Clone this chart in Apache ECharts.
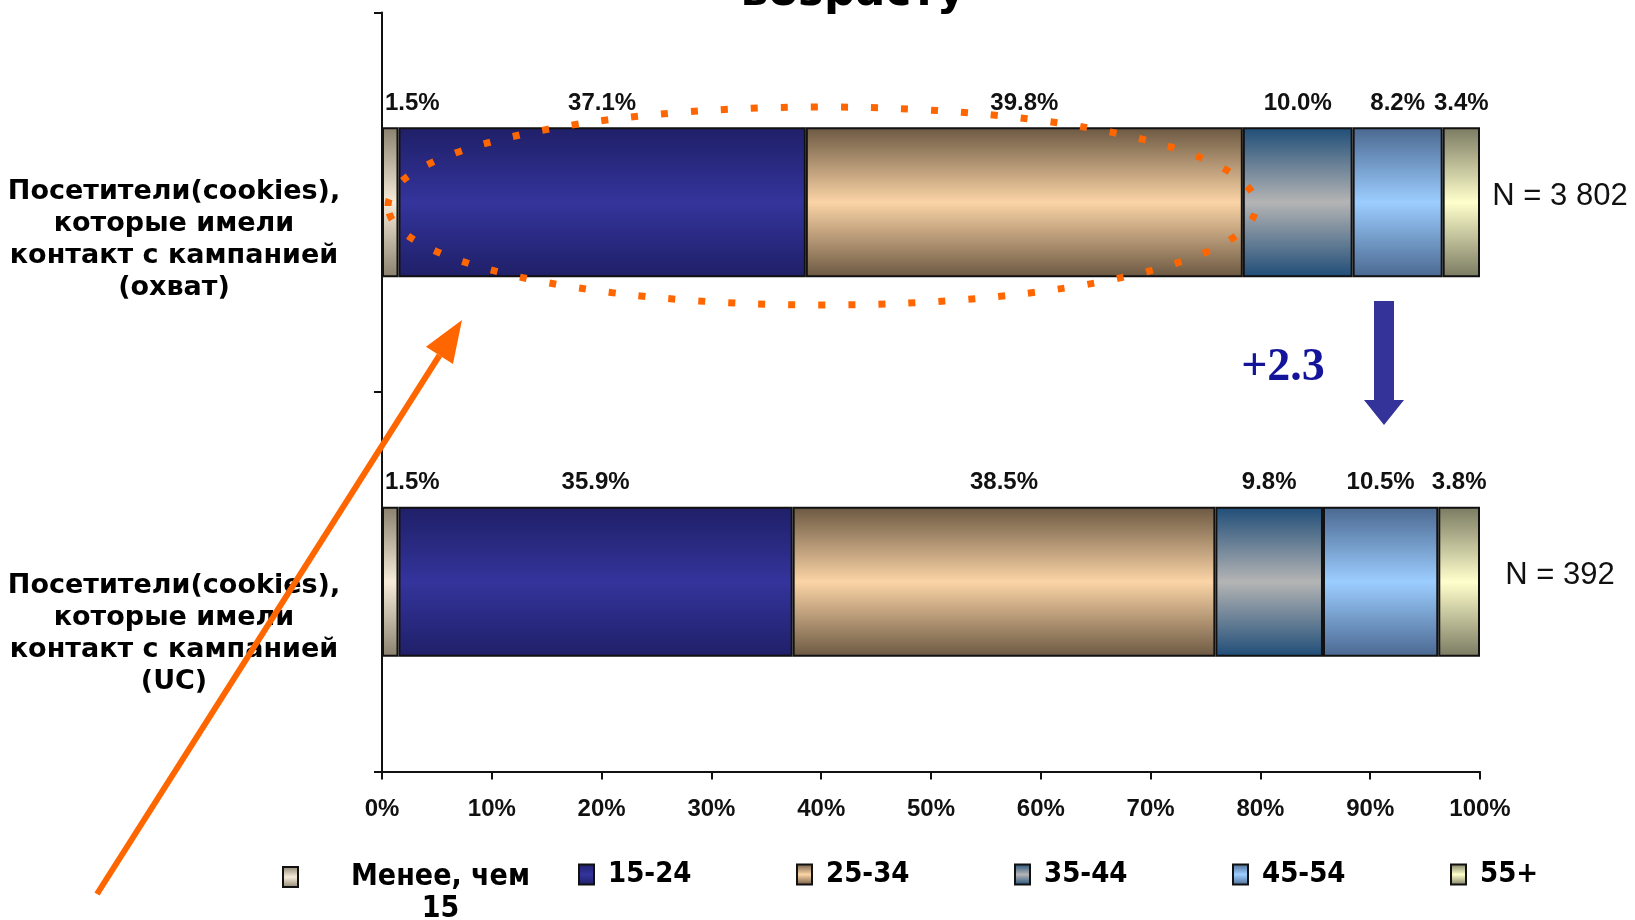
<!DOCTYPE html>
<html><head><meta charset="utf-8">
<script src="https://cdn.jsdelivr.net/npm/echarts@6/dist/echarts.min.js"></script>
<style>html,body{margin:0;padding:0;background:#fff}#c{width:1635px;height:920px}</style>
</head><body><div id="c"></div>
<script>
// ---- data ----
const categories = [
  'Посетители(cookies),\nкоторые имели\nконтакт с кампанией\n(охват)',
  'Посетители(cookies),\nкоторые имели\nконтакт с кампанией\n(UC)'
];
const seriesNames = ['Менее, чем 15', '15-24', '25-34', '35-44', '45-54', '55+'];
const under15   = [1.5, 1.5];
const age15_24  = [37.1, 35.9];
const age25_34  = [39.8, 38.5];
const age35_44  = [10.0, 9.8];
const age45_54  = [8.2, 10.5];
const age55plus = [3.4, 3.8];
const sampleSizes = ['N = 3 802', 'N = 392'];
const xTickValues = [0, 10, 20, 30, 40, 50, 60, 70, 80, 90, 100];
const titleText = 'возрасту';
const deltaText = '+2.3';

// ---- styles ----
const palette = [
  ['#8a806e', '#f6ecd9'],
  ['#1f1f68', '#34349c'],
  ['#6b5842', '#fbd4a6'],
  ['#1f4d78', '#b4b4b4'],
  ['#4a6890', '#9ccdff'],
  ['#7a7a62', '#ffffcc']
];
function grad(edge, mid) {
  return new echarts.graphic.LinearGradient(0, 0, 0, 1, [
    { offset: 0, color: edge }, { offset: 0.5, color: mid }, { offset: 1, color: edge }
  ]);
}
const values = [under15, age15_24, age25_34, age35_44, age45_54, age55plus];

const series = values.map((d, i) => ({
  name: seriesNames[i],
  type: 'bar',
  stack: 'total',
  barWidth: 150,
  data: d,
  itemStyle: { color: grad(palette[i][0], palette[i][1]), borderColor: '#111', borderWidth: 2 },
  label: {
    show: true, position: 'top', distance: 12,
    offset: d[0] < 3 ? [22, 0] : [0, 0],
    formatter: p => p.value.toFixed(1) + '%',
    color: '#111', fontFamily: 'Liberation Sans, Arial', fontSize: 24, fontWeight: 'bold'
  },
  emphasis: { disabled: true }
}));
series.push({
  name: 'N', type: 'bar', stack: 'total', barWidth: 150, data: sampleSizes.map(() => 0),
  itemStyle: { color: 'rgba(0,0,0,0)', borderWidth: 0 },
  label: {
    show: true, position: 'right', distance: 80, align: 'center', offset: [0, -6],
    formatter: p => sampleSizes[p.dataIndex],
    color: '#111', fontFamily: 'Liberation Sans, Arial', fontSize: 31
  },
  silent: true, emphasis: { disabled: true }
});

const legendFont = "'DejaVu Sans Condensed', 'Liberation Sans Narrow', 'DejaVu Sans', sans-serif";

// orange arrow geometry (annotation)
const aTail = [97, 894], aTip = [462, 320];
const adx = aTip[0] - aTail[0], ady = aTip[1] - aTail[1];
const alen = Math.hypot(adx, ady), ux = adx / alen, uy = ady / alen;
const headL = 42, headW = 16;
const base = [aTip[0] - headL * ux, aTip[1] - headL * uy];
const nx = -uy, ny = ux;

const chart = echarts.init(document.getElementById('c'));
chart.setOption({
  animation: false,
  backgroundColor: '#fff',
  grid: { left: 382, right: 155, top: 12.5, bottom: 148.4 },
  xAxis: {
    type: 'value', min: xTickValues[0], max: xTickValues[xTickValues.length - 1], interval: 10,
    axisLine: { show: true, lineStyle: { color: '#111', width: 2 } },
    axisTick: { show: true, length: 8, lineStyle: { color: '#111', width: 2 } },
    splitLine: { show: false },
    axisLabel: { formatter: '{value}%', margin: 26, color: '#111', fontFamily: 'Liberation Sans, Arial', fontWeight: 'bold', fontSize: 24 }
  },
  yAxis: {
    type: 'category', inverse: true, data: categories,
    axisLine: { show: true, lineStyle: { color: '#111', width: 2 } },
    axisTick: { show: true, length: 8, lineStyle: { color: '#111', width: 2 } },
    axisLabel: {
      formatter: (v, i) => (i === 0 ? '{a| }\n{a| }\n' : '{b| }\n{b| }\n{b| }\n') + v,
      align: 'center', margin: 208, lineHeight: 32,
      color: '#000', fontFamily: 'DejaVu Sans, Verdana', fontWeight: 'bold', fontSize: 27,
      rich: { a: { lineHeight: 38, fontSize: 10 }, b: { lineHeight: 35, fontSize: 10 } }
    }
  },
  legend: [
    {
      data: [seriesNames[0]], left: 282, top: 830, padding: 0, icon: 'rect',
      itemWidth: 15, itemHeight: 20, selectedMode: false,
      formatter: name => {
        const k = name.lastIndexOf(' ');
        return '{c| }\n{c|' + name.slice(0, k) + '}\n{c|' + name.slice(k + 1) + '}';
      },
      textStyle: {
        rich: { c: { width: 275, align: 'center', lineHeight: 32, fontSize: 30, fontWeight: 'bold', fontFamily: legendFont, color: '#000' } }
      }
    },
    {
      data: seriesNames.slice(1), left: 578, top: 860, padding: 0, icon: 'rect', itemGap: 93,
      itemWidth: 15, itemHeight: 20, selectedMode: false,
      formatter: name => '{t|' + name + '}',
      textStyle: {
        rich: { t: { width: 95, padding: [0, 0, 0, 9], lineHeight: 36, fontSize: 29, fontWeight: 'bold', fontFamily: legendFont, color: '#000' } }
      }
    }
  ],
  series: series,
  graphic: [
    { type: 'text', z: 100, style: { text: titleText, x: 853, y: -6, font: "bold 44px 'DejaVu Sans'", fill: '#000', align: 'center', verticalAlign: 'middle' } },
    { type: 'ellipse', z: 100, silent: true, shape: { cx: 822, cy: 206, rx: 434, ry: 99 },
      style: { fill: 'none', stroke: '#ff6600', lineWidth: 7, lineDash: [7, 23] } },
    { type: 'line', z: 100, silent: true, shape: { x1: aTail[0], y1: aTail[1], x2: base[0], y2: base[1] },
      style: { stroke: '#ff6600', lineWidth: 6 } },
    { type: 'polygon', z: 100, silent: true,
      shape: { points: [aTip, [base[0] + headW * nx, base[1] + headW * ny], [base[0] - headW * nx, base[1] - headW * ny]] },
      style: { fill: '#ff6600' } },
    { type: 'polygon', z: 100, silent: true,
      shape: { points: [[1374, 301], [1394, 301], [1394, 400], [1404, 400], [1384, 425], [1364, 400], [1374, 400]] },
      style: { fill: '#333399' } },
    { type: 'text', z: 100, style: { text: deltaText, x: 1283, y: 368, font: "bold 46px 'Liberation Serif'", fill: '#14149a', align: 'center', verticalAlign: 'middle' } }
  ]
});
</script>
</body></html>
